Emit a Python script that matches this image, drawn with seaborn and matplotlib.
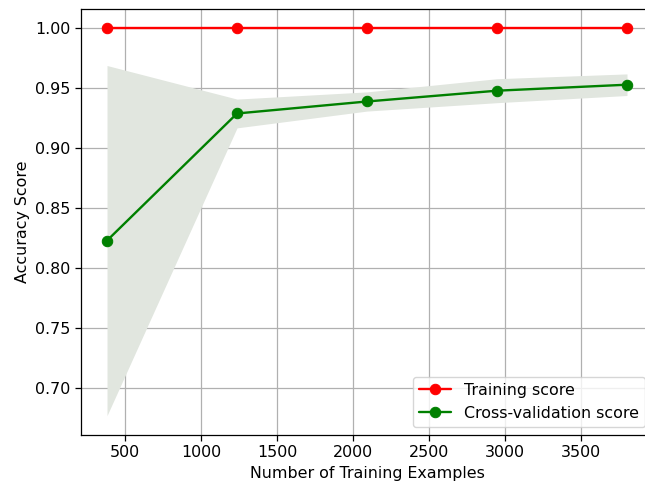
import numpy as np
import pandas as pd
import matplotlib
matplotlib.use("Agg")
import matplotlib.pyplot as plt
import seaborn as sns

# Learning-curve results
train_sizes = [380, 1236, 2091, 2947, 3803]
train_mean = [1.0, 1.0, 1.0, 1.0, 1.0]
train_std = [0.0, 0.0, 0.0, 0.0, 0.0]
test_mean = [0.823, 0.929, 0.939, 0.948, 0.953]
test_std = [0.146, 0.012, 0.008, 0.010, 0.009]

x_label = "Number of Training Examples"
y_label = "Accuracy Score"
legend_labels = ["Training score", "Cross-validation score"]

sns.set_style("ticks", rc={
    "text.color": "black",
    "axes.labelcolor": "black",
    "xtick.color": "black",
    "ytick.color": "black",
    "axes.edgecolor": "black",
})
plt.rcParams["font.family"] = ["DejaVu Sans"]

FS = 11.4

fig, ax = plt.subplots(figsize=(6.45, 4.88), dpi=100)
# the axes run slightly past the right edge of the canvas
fig.subplots_adjust(left=0.1256, right=1.0124, top=0.9816, bottom=0.1086)

sizes = np.array(train_sizes)
tm, ts = np.array(train_mean), np.array(train_std)
vm, vs = np.array(test_mean), np.array(test_std)

ax.fill_between(sizes, tm - ts, tm + ts, color="#e1e6df", linewidth=0)
ax.fill_between(sizes, vm - vs, vm + vs, color="#e1e6df", linewidth=0)

df = pd.DataFrame({"size": sizes, "train": tm, "test": vm})
sns.lineplot(data=df, x="size", y="train", ax=ax, color="red", marker="o",
             markersize=7.5, markeredgecolor="red", linewidth=1.7,
             label=legend_labels[0])
sns.lineplot(data=df, x="size", y="test", ax=ax, color="green", marker="o",
             markersize=7.5, markeredgecolor="green", linewidth=1.7,
             label=legend_labels[1])

ax.set_xlabel(x_label, fontsize=FS)
ax.set_ylabel(y_label, fontsize=FS)
ax.tick_params(labelsize=FS, length=4, width=0.9)
ax.grid(True, color="#b0b0b0", linewidth=0.9)
for s in ax.spines.values():
    s.set_color("black")
    s.set_linewidth(0.9)

ax.legend(loc="lower right", fontsize=FS, frameon=True)

fig.savefig("out.png", dpi=100)
